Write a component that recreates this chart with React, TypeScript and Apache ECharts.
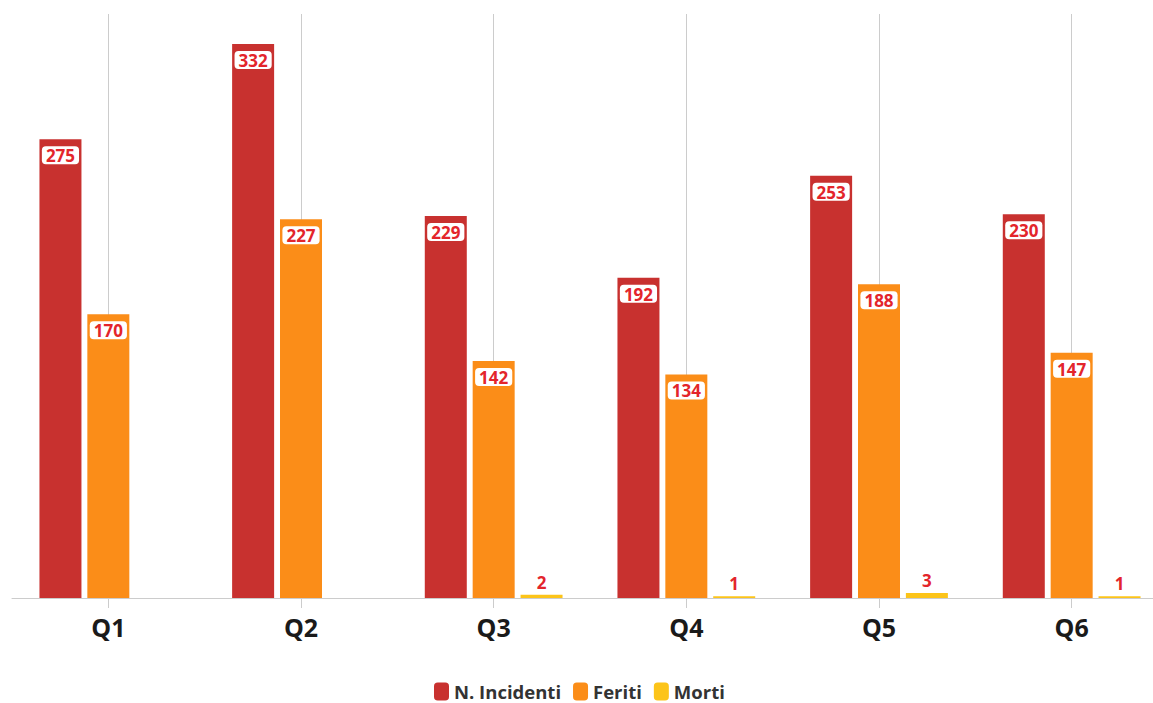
import React, { useEffect, useRef } from "react";
import * as echarts from "echarts";

const categories = ["Q1", "Q2", "Q3", "Q4", "Q5", "Q6"];
const incidenti = [275, 332, 229, 192, 253, 230];
const feriti = [170, 227, 142, 134, 188, 147];
const morti = [0, 0, 2, 1, 3, 1];

const FONT = "'Open Sans', Lato, sans-serif";
const W = 1168;

export default function App() {
  const ref = useRef<HTMLDivElement>(null);
  useEffect(() => {
    if (!ref.current) return;
    const chart = echarts.init(ref.current, null, { renderer: "svg" });
    const insideLabel = {
      show: true,
      position: "insideTop",
      distance: 7,
      color: "#e3252b",
      fontFamily: FONT,
      fontWeight: "bold",
      fontSize: 17,
      backgroundColor: "#ffffff",
      borderRadius: 4,
      padding: [1, 4, 0, 4],
    };
    const mk = (vals: number[]) =>
      vals.map((v) => (v === 0 ? { value: v, label: { show: false } } : v));
    chart.setOption({
      animation: false,
      grid: { left: 12, right: 0, top: 14, bottom: 105, containLabel: false },
      legend: {
        top: 677,
        left: 429,
        icon: "roundRect",
        itemWidth: 15,
        itemHeight: 18,
        itemGap: 12,
        textStyle: { fontFamily: FONT, fontWeight: "bold", fontSize: 18.5, color: "#333" },
        data: ["N. Incidenti", "Feriti", "Morti"],
      },
      xAxis: [
        {
          type: "category",
          data: categories,
          axisLine: { show: true, lineStyle: { color: "#cccccc", width: 1 } },
          axisTick: { show: true, alignWithLabel: true, length: 10, lineStyle: { color: "#cccccc" } },
          axisLabel: {
            margin: 16,
            fontFamily: FONT,
            fontWeight: "bold",
            fontSize: 25,
            color: "#1a1a1a",
          },
          splitLine: { show: false },
        },
        {
          type: "category",
          data: categories,
          position: "bottom",
          axisLine: { show: false },
          axisLabel: { show: false },
          axisTick: {
            show: true,
            inside: true,
            alignWithLabel: true,
            length: 584,
            lineStyle: { color: "#cccccc", width: 1 },
          },
        },
      ],
      yAxis: {
        type: "value",
        min: 0,
        max: 350,
        show: false,
        splitLine: { show: false },
      },
      series: [
        {
          name: "N. Incidenti",
          type: "bar",
          data: mk(incidenti),
          barWidth: 42,
          barGap: "14%",
          itemStyle: { color: "#c8312f" },
          label: insideLabel,
        },
        {
          name: "Feriti",
          type: "bar",
          data: mk(feriti),
          barWidth: 42,
          barGap: "14%",
          itemStyle: { color: "#fb8d18" },
          label: insideLabel,
        },
        {
          name: "Morti",
          type: "bar",
          data: mk(morti),
          barWidth: 42,
          barGap: "14%",
          itemStyle: { color: "#fcc419" },
          label: { ...insideLabel, position: "top", distance: 4, backgroundColor: "transparent" },
        },
      ],
    });
    return () => chart.dispose();
  }, []);
  return (
    <div
      style={{
        position: "absolute",
        left: 0,
        top: 0,
        width: 1153,
        height: 703,
        overflow: "hidden",
      }}
    >
      <div ref={ref} style={{ width: W, height: 703 }} />
    </div>
  );
}
